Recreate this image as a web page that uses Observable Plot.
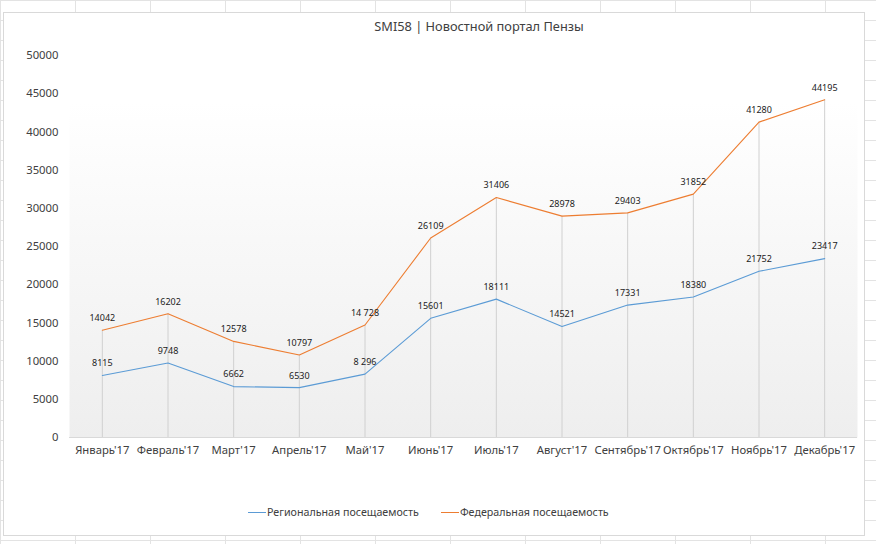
<!DOCTYPE html>
<html>
<head>
<meta charset="utf-8">
<script src="https://cdn.jsdelivr.net/npm/d3@7"></script>
<script src="https://cdn.jsdelivr.net/npm/@observablehq/plot@0.6"></script>
<style>
  html, body { margin: 0; padding: 0; }
  body {
    width: 876px; height: 544px; overflow: hidden; position: relative;
    background-color: #fff;
    background-image:
      repeating-linear-gradient(to right, #e3e3e3 0 1px, transparent 1px 75px),
      repeating-linear-gradient(to bottom, #e3e3e3 0 1px, transparent 1px 20px);
    font-family: "Noto Sans", sans-serif;
  }
  #chart {
    position: absolute; left: 3px; top: 12px; width: 862px; height: 524px;
    background: #fff; border: 1px solid #d9d9d9; box-sizing: border-box;
  }
  #title {
    position: absolute; left: 0; top: 17px; width: 958px; text-align: center;
    font-size: 12.8px; color: #404040;
  }
  #plot { position: absolute; left: 0; top: 45px; }
  #legend {
    position: absolute; top: 505px; left: 248px; font-size: 10.7px; color: #404040;
    display: flex; align-items: center; white-space: nowrap;
  }
  #legend .sw { display: inline-block; width: 18px; height: 1px; margin-right: 1px; }
  #legend .item { display: flex; align-items: center; margin-right: 22px; }
</style>
</head>
<body>
<div id="chart"></div>
<div id="title">SMI58 | Новостной портал Пензы</div>
<div id="plot"></div>
<div id="legend"></div>
<script>
const months = ["Январь'17","Февраль'17","Март'17","Апрель'17","Май'17","Июнь'17","Июль'17","Август'17","Сентябрь'17","Октябрь'17","Ноябрь'17","Декабрь'17"];
const regional = [8115, 9748, 6662, 6530, 8296, 15601, 18111, 14521, 17331, 18380, 21752, 23417];
const federal = [14042, 16202, 12578, 10797, 14728, 26109, 31406, 28978, 29403, 31852, 41280, 44195];
const regionalLabels = ["8115","9748","6662","6530","8 296","15601","18111","14521","17331","18380","21752","23417"];
const federalLabels = ["14042","16202","12578","10797","14 728","26109","31406","28978","29403","31852","41280","44195"];
const seriesNames = ["Региональная посещаемость", "Федеральная посещаемость"];
const colors = ["#5B9BD5", "#ED7D31"];
const yTicks = [0, 5000, 10000, 15000, 20000, 25000, 30000, 35000, 40000, 45000, 50000];

const rows = [];
months.forEach((m, i) => {
  rows.push({month: m, value: regional[i], label: regionalLabels[i], series: seriesNames[0]});
  rows.push({month: m, value: federal[i], label: federalLabels[i], series: seriesNames[1]});
});
const drops = months.map((m, i) => ({month: m, top: Math.max(regional[i], federal[i])}));

const defs = () => {
  const ns = "http://www.w3.org/2000/svg";
  const d = document.createElementNS(ns, "defs");
  d.innerHTML = `<linearGradient id="bggrad" x1="0" y1="0" x2="0" y2="1">
    <stop offset="0" stop-color="#ffffff"/>
    <stop offset="0.12" stop-color="#ffffff"/>
    <stop offset="1" stop-color="#eeeeee"/>
  </linearGradient>`;
  return d;
};

const plot = Plot.plot({
  width: 876,
  height: 420,
  marginLeft: 69,
  marginRight: 19,
  marginTop: 10,
  marginBottom: 28,
  style: {fontFamily: "'Noto Sans', sans-serif", fontSize: "11.3px", color: "#404040", background: "transparent", overflow: "visible"},
  x: {type: "point", domain: months, padding: 0.5, round: false, label: null, tickSize: 0, tickPadding: 8},
  y: {domain: [0, 50000], ticks: yTicks, tickFormat: d => String(d), label: null, tickSize: 0, tickPadding: 11},
  color: {domain: seriesNames, range: colors},
  marks: [
    defs,
    Plot.frame({fill: "url(#bggrad)", stroke: "none"}),
    Plot.ruleX(drops, {x: "month", y1: 0, y2: "top", stroke: "#d0d0d0", strokeWidth: 1}),
    Plot.ruleY([0], {stroke: "#d9d9d9", strokeWidth: 1}),
    Plot.line(rows, {x: "month", y: "value", z: "series", stroke: "series", strokeWidth: 1.1}),
    Plot.text(rows, {x: "month", y: "value", text: "label", dy: -12, fontSize: 9, fill: "#222"})
  ]
});
document.getElementById("plot").appendChild(plot);

const legend = document.getElementById("legend");
seriesNames.forEach((n, i) => {
  const it = document.createElement("div");
  it.className = "item";
  it.innerHTML = `<span class="sw" style="background:${colors[i]}"></span><span>${n}</span>`;
  legend.appendChild(it);
});
</script>
</body>
</html>
